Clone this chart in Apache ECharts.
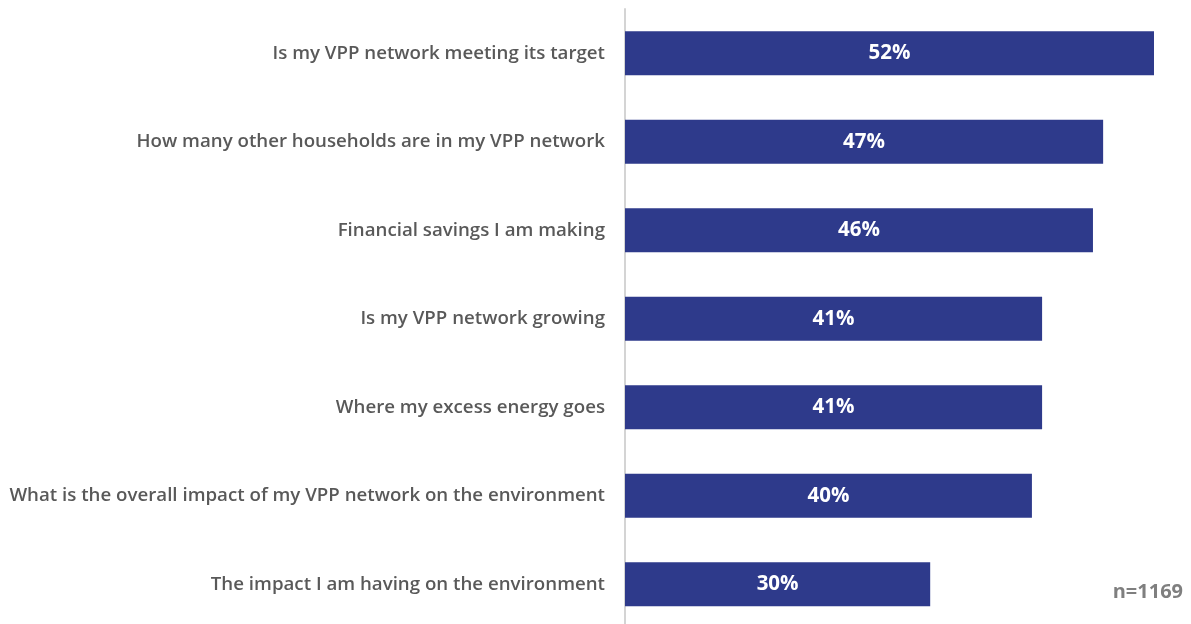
<!DOCTYPE html>
<html>
<head>
<meta charset="utf-8">
<script src="https://cdn.jsdelivr.net/npm/echarts@6/dist/echarts.min.js"></script>
<style>
  html, body { margin: 0; padding: 0; background: #ffffff; }
  #chart { width: 1191px; height: 624px; }
</style>
</head>
<body>
<div id="chart"></div>
<script>
// What survey respondents want to know about their VPP network
const categories = [
  'Is my VPP network meeting its target',
  'How many other households are in my VPP network',
  'Financial savings I am making',
  'Is my VPP network growing',
  'Where my excess energy goes',
  'What is the overall impact of my VPP network on the environment',
  'The impact I am having on the environment'
];
const shares = [52, 47, 46, 41, 41, 40, 30];
const sampleNote = 'n=1169';

const chart = echarts.init(document.getElementById('chart'), null, { renderer: 'canvas' });

chart.setOption({
  animation: false,
  backgroundColor: '#ffffff',
  // the category band runs slightly past the lower canvas edge
  grid: { left: 625, right: 37, top: 9, height: 619.5, containLabel: false, outerBoundsMode: 'none' },
  xAxis: {
    type: 'value',
    min: 0,
    max: 52,
    show: false
  },
  yAxis: {
    type: 'category',
    data: categories,
    inverse: true,
    axisLine: { show: true, lineStyle: { color: '#d4d4d4', width: 2 } },
    axisTick: { show: false },
    axisLabel: {
      margin: 20,
      color: '#595959',
      fontFamily: 'Open Sans',
      fontWeight: 600,
      fontSize: 18.7
    }
  },
  series: [{
    type: 'bar',
    data: shares,
    barWidth: 44,
    itemStyle: { color: '#2e3a8b' },
    label: {
      show: true,
      position: 'inside',
      formatter: p => p.value + '%',
      color: '#ffffff',
      fontFamily: 'Open Sans',
      fontWeight: 700,
      fontSize: 20.5
    }
  }],
  graphic: [{
    type: 'text',
    right: 8,
    top: 582,
    style: {
      text: sampleNote,
      fill: '#7f7f7f',
      font: '700 20px "Open Sans"'
    }
  }]
});
</script>
</body>
</html>
